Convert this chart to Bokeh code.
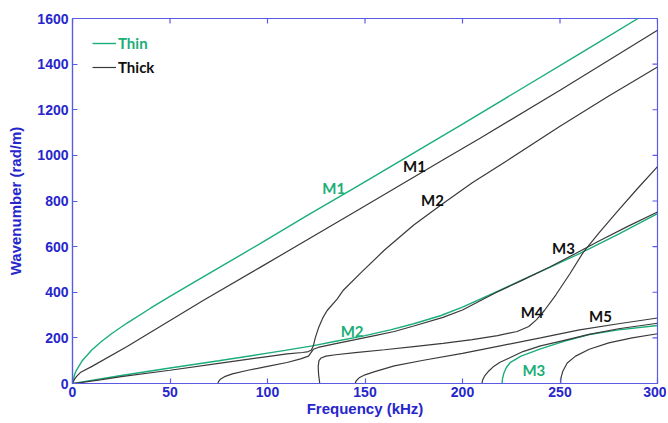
from bokeh.plotting import figure
from bokeh.models import Range1d, FixedTicker, Legend, LegendItem, ColumnDataSource
from bokeh.core.properties import value
from bokeh.embed import file_html
from bokeh.resources import INLINE

# ---------------- data ----------------
x_ticks = [0, 50, 100, 150, 200, 250, 300]
y_ticks = [0, 200, 400, 600, 800, 1000, 1200, 1400, 1600]

# Thin plate
thin_m1_f = [0, 1, 2, 5, 10, 15, 20, 28, 40, 50, 62, 80, 96, 120, 146, 169, 200, 230, 260, 290]
thin_m1_k = [0, 38, 58, 100, 148, 185, 218, 265, 330, 382, 442, 532, 612, 735, 864, 980, 1137, 1291, 1445, 1600]

thin_m2_f = [0, 5, 15, 25, 50, 75, 100, 109, 123, 135, 150, 163, 175, 189, 200, 217, 230, 245, 260, 280, 300]
thin_m2_k = [0, 7, 21, 35, 68, 100, 133, 145, 165, 185, 210, 235, 262, 298, 335, 400, 452, 510, 569, 655, 745]

thin_m3_f = [220.3, 220.5, 221.2, 222.5, 224.6, 230, 240, 252, 265, 280, 300]
thin_m3_k = [0, 20, 45, 70, 93, 120, 152, 185, 215, 235, 254]

# Thick plate
thick_m1_f = [0, 1, 2, 4, 10, 28, 67, 96, 146, 191, 209, 250, 300]
thick_m1_k = [0, 18, 30, 48, 75, 162, 364, 508, 758, 985, 1075, 1285, 1548]

thick_a_f = [0, 5, 15, 25, 50, 75, 100, 110, 118, 121, 122.5, 123.5, 124.5, 126.3, 128.5, 130.6, 135.7,
             139, 147.7, 160, 175, 190, 205, 223, 250, 275, 300]
thick_a_k = [0, 5, 17, 30, 58, 88, 118, 130, 136, 140, 147, 165, 200, 247, 290, 320, 370,
             410, 484, 585, 695, 789, 880, 978, 1128, 1260, 1387]

thick_b_f = [74.5, 75, 76, 78, 82, 90, 100, 110, 117, 121, 123.5, 126, 135, 145, 155, 165, 175, 190,
             200, 217, 230, 245, 258, 270, 285, 300]
thick_b_k = [0, 10, 20, 30, 42, 58, 75, 92, 108, 120, 150, 158, 175, 192, 210, 228, 252, 290,
             322, 398, 450, 512, 570, 625, 690, 752]

thick_c_f = [126.8, 126.2, 126.0, 126.4, 127.5, 130, 135, 145, 160, 175, 190, 205, 218, 228, 234, 238,
             242, 248, 255, 262, 270, 280, 290, 300]
thick_c_k = [0, 40, 75, 100, 112, 120, 126, 135, 148, 162, 176, 192, 210, 228, 250, 280,
             320, 390, 480, 576, 660, 760, 857, 951]

thick_d_f = [145, 145.5, 147, 150, 155, 165, 180, 200, 220, 240, 260, 280, 300]
thick_d_k = [0, 12, 25, 38, 52, 77, 102, 132, 166, 200, 235, 262, 287]

thick_e_f = [210, 210.3, 211.5, 213.5, 216, 219, 224, 231, 240, 250, 265, 280, 300]
thick_e_k = [0, 15, 35, 55, 75, 92, 112, 140, 165, 185, 215, 240, 264]

thick_f_f = [250.3, 250.5, 251.5, 253.7, 258, 265, 275, 287, 300]
thick_f_k = [0, 25, 55, 90, 120, 150, 178, 200, 218]

# mode labels
lab_text = ["M1", "M1", "M2", "M3", "M4", "M5", "M2", "M3"]
lab_x = [134, 175.4, 184.6, 251.8, 235.7, 270.8, 143.4, 236.6]
lab_y = [855, 952, 803, 596, 313, 298, 232, 57]
lab_kind = ["thin", "thick", "thick", "thick", "thick", "thick", "thin", "thin"]

# ---------------- styling ----------------
GREEN = "#1aae78"
BLACK = "#3a3a3a"
AX_LINE = "#5a5ae6"
AX_TEXT = "#2626cc"
TICK_FONT = "Liberation Sans"
LAB_FONT = "Lato"
X0, X1 = 0, 300
Y0, Y1 = 0, 1600

p = figure(width=666, height=421, output_backend="svg", toolbar_location=None,
           x_range=Range1d(X0, X1), y_range=Range1d(Y0, Y1),
           min_border_left=72, min_border_right=9, min_border_top=18, min_border_bottom=38)
p.background_fill_color = "white"
p.border_fill_color = "white"
p.outline_line_color = AX_LINE
p.outline_line_width = 1.2
p.xgrid.visible = False
p.ygrid.visible = False

thin_m1 = p.line(thin_m1_f, thin_m1_k, line_color=GREEN, line_width=1.4)
p.line(thin_m2_f, thin_m2_k, line_color=GREEN, line_width=1.4)
p.line(thin_m3_f, thin_m3_k, line_color=GREEN, line_width=1.4)

thick_m1 = p.line(thick_m1_f, thick_m1_k, line_color=BLACK, line_width=1.2)
for fx, ky in [(thick_a_f, thick_a_k), (thick_b_f, thick_b_k), (thick_c_f, thick_c_k),
               (thick_d_f, thick_d_k), (thick_e_f, thick_e_k), (thick_f_f, thick_f_k)]:
    p.line(fx, ky, line_color=BLACK, line_width=1.2)

src = ColumnDataSource(dict(x=lab_x, y=lab_y, text=lab_text,
                            color=[GREEN if k == "thin" else "#111111" for k in lab_kind]))
p.text(x="x", y="y", text="text", text_color="color", source=src,
       text_font=value(LAB_FONT), text_font_style="bold", text_font_size="15px",
       text_align="center", text_baseline="middle")

# inward ticks on the top and right edges of the box (MATLAB style)
tick_dx = (X1 - X0) * 5 / 585.0
tick_dy = (Y1 - Y0) * 5 / 365.0
p.segment(x0=x_ticks, y0=[Y1] * len(x_ticks), x1=x_ticks, y1=[Y1 - tick_dy] * len(x_ticks),
          line_color=AX_LINE, line_width=1.2)
p.segment(x0=[X1] * len(y_ticks), y0=y_ticks, x1=[X1 - tick_dx] * len(y_ticks), y1=y_ticks,
          line_color=AX_LINE, line_width=1.2)

for ax, ticks in [(p.below[0], x_ticks), (p.left[0], y_ticks)]:
    ax.ticker = FixedTicker(ticks=ticks)
    ax.axis_line_color = AX_LINE
    ax.axis_line_width = 1.2
    ax.major_tick_line_color = AX_LINE
    ax.major_tick_line_width = 1.2
    ax.major_tick_in = 5
    ax.major_tick_out = 0
    ax.minor_tick_in = 0
    ax.minor_tick_out = 0
    ax.major_label_text_font = TICK_FONT
    ax.major_label_text_font_style = "bold"
    ax.major_label_text_color = AX_TEXT
    ax.major_label_text_font_size = "14px"
    ax.axis_label_text_font = TICK_FONT
    ax.axis_label_text_font_style = "bold"
    ax.axis_label_text_font_size = "15px"
    ax.axis_label_text_color = AX_TEXT

p.below[0].axis_label = "Frequency (kHz)"
p.below[0].major_label_standoff = 3
p.below[0].axis_label_standoff = 0
p.left[0].axis_label = "Wavenumber (rad/m)"
p.left[0].major_label_standoff = 4
p.left[0].axis_label_standoff = 10

def make_legend(label, rend, color, loc):
    lg = Legend(items=[LegendItem(label=label, renderers=[rend])], location=loc,
                border_line_color=None, background_fill_alpha=0, padding=0, margin=0, spacing=0,
                glyph_width=24, glyph_height=18, label_height=18, label_standoff=2,
                label_text_font=LAB_FONT, label_text_font_style="bold",
                label_text_font_size="15px", label_text_color=color)
    p.add_layout(lg)

make_legend("Thin", thin_m1, GREEN, (20, 331))
make_legend("Thick", thick_m1, "#111111", (20, 307))

open("out.html", "w").write(file_html(p, INLINE))
